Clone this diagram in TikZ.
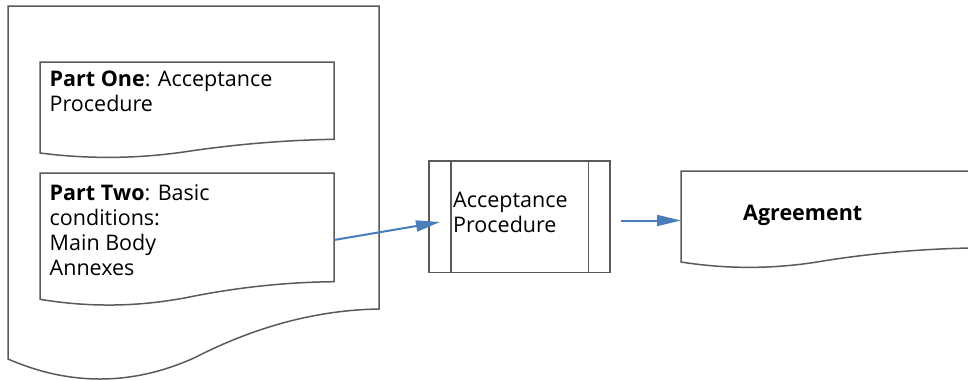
\documentclass[tikz,border=0pt]{standalone}
\usepackage{fontspec}
\setmainfont{Open Sans}
\usetikzlibrary{arrows.meta}
\definecolor{edgegray}{HTML}{5A5A5A}
\definecolor{arrblue}{HTML}{4A7EBB}
\begin{document}
\begin{tikzpicture}[x=1pt,y=-1pt,
  shapeline/.style={draw=edgegray,line width=1.5pt,fill=white,line join=miter},
  txt/.style={anchor=base west,inner sep=0pt,font=\fontsize{21.5}{25}\selectfont},
  flow/.style={draw=arrblue,line width=2pt,-{Triangle[length=24pt,width=11pt]}}]
\useasboundingbox (0,0) rectangle (968,380);
% outer document
\path[shapeline] (8,6) -- (379,6) -- (379,309)
  .. controls (317.3,310) and (255.7,326.3) .. (194,358)
  .. controls (132,385.7) and (70,386) .. (8,359) -- cycle;
% part one document
\path[shapeline] (40,62) -- (334,62) -- (334,139.3)
  .. controls (285,140.2) and (236,144.2) .. (187,151.5)
  .. controls (138,158.8) and (89,159.3) .. (40,153) -- cycle;
% part two document
\path[shapeline] (40,173) -- (334,173) -- (334,281.7)
  .. controls (285,282.2) and (236,287.5) .. (187,297.5)
  .. controls (138,306.9) and (89,307.5) .. (40,299.3) -- cycle;
% agreement document
\path[shapeline] (681,171) -- (971,171) -- (971,248)
  .. controls (922.7,248.9) and (874.3,253) .. (826,260.5)
  .. controls (777.7,269.1) and (729.3,269.6) .. (681,262) -- cycle;
% process box
\node[shapeline,minimum width=181pt,minimum height=111.5pt,inner sep=0pt] (proc) at (519.5,216.5) {};
\draw[edgegray,line width=1.5pt] (451,161) -- (451,272);
\draw[edgegray,line width=1.5pt] (588.5,161) -- (588.5,272);
% texts
\node[txt] (p1a) at (49.5,86) {\textbf{Part One}: Acceptance};
\node[txt] (p1b) at (49.5,111) {Procedure};
\node[txt] (p2a) at (49.5,200.5) {\textbf{Part Two}: Basic};
\node[txt] (p2b) at (49.5,225.5) {conditions:};
\node[txt] (p2c) at (49.5,250.5) {Main Body};
\node[txt] (p2d) at (49.5,275.5) {Annexes};
\node[txt] (pra) at (453,207.5) {Acceptance};
\node[txt] (prb) at (453,232) {Procedure};
\node[txt] (ag) at (743,220) {\textbf{Agreement}};
% connectors
\coordinate (p2out) at (334,240);
\coordinate (procin) at (440,222);
\coordinate (procout) at (621,220.5);
\coordinate (agin) at (681,220.5);
\draw[flow] (p2out) -- (procin);
\draw[flow] (procout) -- (agin);
\end{tikzpicture}
\end{document}
